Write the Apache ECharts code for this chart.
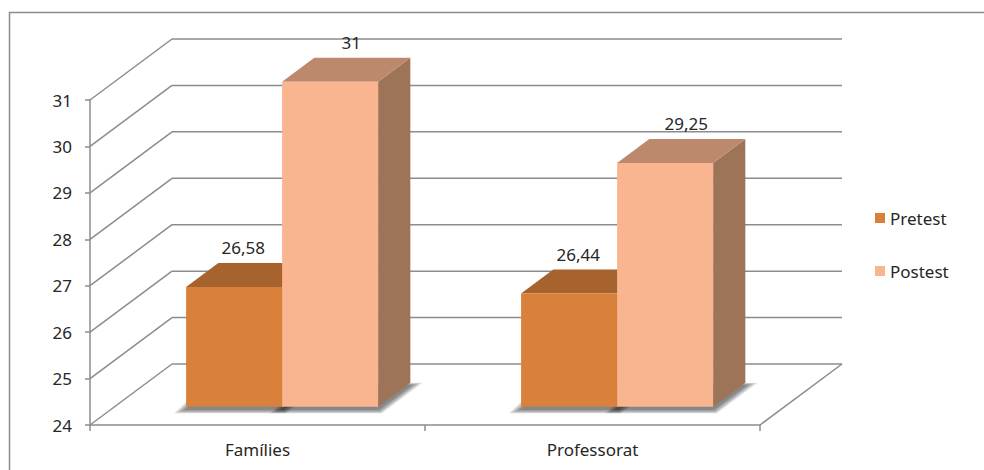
<!DOCTYPE html>
<html>
<head>
<meta charset="utf-8">
<script src="https://cdn.jsdelivr.net/npm/echarts@6/dist/echarts.min.js"></script>
<style>
  html, body { margin: 0; padding: 0; background: #ffffff; }
  #chart { width: 984px; height: 470px; }
</style>
</head>
<body>
<div id="chart"></div>
<script>
// Scores per group, before and after
const categories = ['Famílies', 'Professorat'];
const seriesNames = ['Pretest', 'Postest'];
const pretest = [26.58, 26.44];
const postest = [31, 29.25];
const yTicks = [24, 25, 26, 27, 28, 29, 30, 31];

const FONT = '"Noto Sans", "DejaVu Sans", sans-serif';
const TEXT = '#262626';
const LINE = '#8c8c8c';

// Oblique projection used for the depth direction of the 3D box
const DEPTH_X = 82;
const DEPTH_Y = -61;
const BAR_FRONT = 0.3;   // bar front face, as a fraction of the box depth
const BAR_BACK = 0.693;  // bar back face
const BAR_W = 0.2866;    // width of one bar, as a fraction of a category band

const palette = {
  Pretest: { front: '#d9803a', top: '#a6632e', side: '#9a5a28', labelDx: -7 },
  Postest: { front: '#f9b590', top: '#bd896c', side: '#9e7459', labelDx: 5 }
};

function fmt(v) { return String(v).replace('.', ','); }
function proj(x, y, d) { return [x + DEPTH_X * d, y + DEPTH_Y * d]; }

// Floor, left wall and back wall gridlines, one item per tick value
function wallRender(params, api) {
  const cs = params.coordSys;
  const v = api.value(1);
  const y = api.coord([0, v])[1];
  const L = cs.x, R = cs.x + cs.width;
  const lineStyle = { stroke: LINE, lineWidth: 1.5, fill: null };
  const children = [
    { type: 'line', shape: { x1: L, y1: y, x2: L + DEPTH_X, y2: y + DEPTH_Y }, style: lineStyle, silent: true },
    { type: 'line', shape: { x1: L + DEPTH_X, y1: y + DEPTH_Y, x2: R + DEPTH_X, y2: y + DEPTH_Y }, style: lineStyle, silent: true }
  ];
  if (v === yTicks[0]) {
    children.push({ type: 'line', shape: { x1: R, y1: y, x2: R + DEPTH_X, y2: y + DEPTH_Y }, style: lineStyle, silent: true });
  }
  return { type: 'group', children: children };
}

// Soft floor shadow: stacked, slightly enlarged copies of the bar footprint
function shadowLayers(fBL, fBR, bBR, bBL) {
  const layers = [];
  const steps = 9;
  for (let k = steps; k >= 1; k--) {
    const e = k * 1.4;
    const dy = 2.5;
    layers.push({
      type: 'polygon', z2: 0, silent: true,
      shape: {
        points: [
          [fBL[0] - e, fBL[1] + dy + e * 0.35],
          [fBR[0] + e * 0.3, fBR[1] + dy + e * 0.35],
          [bBR[0] + e, bBR[1] + dy - e * 0.2],
          [bBL[0] - e, bBL[1] + dy - e * 0.2]
        ]
      },
      style: { fill: 'rgba(0,0,0,0.065)' }
    });
  }
  return layers;
}

function barRender(name, slot) {
  const c = palette[name];
  return function (params, api) {
    const ci = api.value(0);
    const v = api.value(1);
    const band = api.size([1, 0])[0];
    const w = band * BAR_W;
    const topPt = api.coord([ci, v]);
    const basePt = api.coord([ci, yTicks[0]]);
    const x0 = topPt[0] - w + slot * w;
    const x1 = x0 + w;
    const yt = topPt[1], yb = basePt[1];

    const fTL = proj(x0, yt, BAR_FRONT), fTR = proj(x1, yt, BAR_FRONT);
    const fBL = proj(x0, yb, BAR_FRONT), fBR = proj(x1, yb, BAR_FRONT);
    const bTL = proj(x0, yt, BAR_BACK), bTR = proj(x1, yt, BAR_BACK);
    const bBL = proj(x0, yb, BAR_BACK), bBR = proj(x1, yb, BAR_BACK);

    return {
      type: 'group',
      children: shadowLayers(fBL, fBR, bBR, bBL).concat([
        {
          type: 'polygon', z2: 10,
          shape: { points: [fTR, bTR, bBR, fBR] },
          style: { fill: c.side }
        },
        {
          type: 'polygon', z2: 10,
          shape: { points: [fTL, fTR, bTR, bTL] },
          style: { fill: c.top }
        },
        {
          type: 'rect', z2: 10,
          shape: { x: fTL[0], y: fTL[1], width: fTR[0] - fTL[0], height: fBL[1] - fTL[1] },
          style: { fill: c.front }
        },
        {
          type: 'text', z2: 20,
          x: (fTL[0] + bTR[0]) / 2 + c.labelDx,
          y: bTL[1] - 15,
          style: {
            text: fmt(v),
            fill: TEXT,
            font: '17px ' + FONT,
            align: 'center',
            verticalAlign: 'middle'
          }
        }
      ])
    };
  };
}

const seriesData = { Pretest: pretest, Postest: postest };

const chart = echarts.init(document.getElementById('chart'), null, { renderer: 'svg' });

chart.setOption({
  animation: false,
  backgroundColor: '#ffffff',
  textStyle: { fontFamily: FONT },
  graphic: [{
    type: 'rect', silent: true, z: -10,
    shape: { x: 9.5, y: 12.5, width: 1000, height: 500 },
    style: { fill: null, stroke: LINE, lineWidth: 1.5 }
  }],
  grid: { left: 90, right: 224, top: 100, bottom: 45 },
  legend: {
    data: seriesNames,
    orient: 'vertical',
    left: 875,
    top: 208,
    padding: 0,
    icon: 'rect',
    itemWidth: 10,
    itemHeight: 10,
    itemGap: 33,
    textStyle: { fontSize: 17, color: TEXT, fontFamily: FONT, lineHeight: 20 }
  },
  xAxis: {
    type: 'category',
    data: categories,
    boundaryGap: true,
    axisLine: { show: true, lineStyle: { color: LINE, width: 1.5 } },
    axisTick: { show: true, length: 6, lineStyle: { color: LINE, width: 1.5 } },
    axisLabel: { fontSize: 17, color: TEXT, margin: 16, fontFamily: FONT },
    splitLine: { show: false }
  },
  yAxis: {
    type: 'value',
    min: 24,
    max: 31,
    interval: 1,
    axisLine: { show: true, lineStyle: { color: LINE, width: 1.5 } },
    axisTick: { show: true, length: 5, lineStyle: { color: LINE, width: 1.5 } },
    axisLabel: { fontSize: 17, color: TEXT, margin: 18, fontFamily: FONT },
    splitLine: { show: false }
  },
  series: [
    {
      type: 'custom',
      name: 'walls',
      silent: true,
      z: 1,
      renderItem: wallRender,
      data: yTicks.map(function (v) { return [0, v]; })
    }
  ].concat(seriesNames.map(function (name, slot) {
    return {
      type: 'custom',
      name: name,
      z: 2,
      itemStyle: { color: palette[name].front },
      renderItem: barRender(name, slot),
      data: seriesData[name].map(function (v, i) { return [i, v]; })
    };
  }))
});
</script>
</body>
</html>
